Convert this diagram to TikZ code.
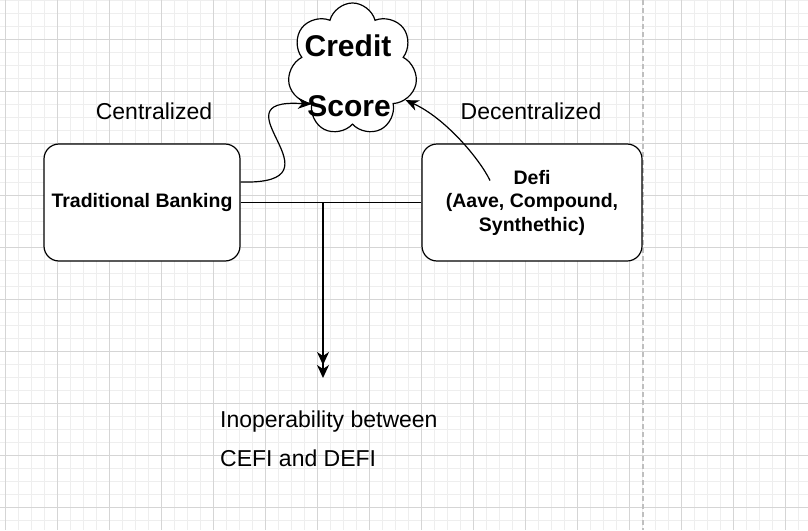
\documentclass[tikz,border=0pt]{standalone}
\usepackage{fontspec}
\setmainfont{Liberation Sans}
\usetikzlibrary{shapes.symbols,arrows.meta}
\definecolor{minorgrid}{HTML}{EEEEEE}
\definecolor{majorgrid}{HTML}{D5D5D5}
\tikzset{
  box/.style={draw, line width=1.2pt, rounded corners=15pt, fill=white, align=center,
    font=\bfseries\fontsize{19.5}{23.5}\selectfont},
  lbl/.style={font=\fontsize{23}{28}\selectfont},
  big/.style={font=\bfseries\fontsize{30}{36}\selectfont},
  tip/.style={line width=1.2pt, -{Stealth[length=13pt,width=11pt,inset=4pt]}},
}
\begin{document}
\begin{tikzpicture}[x=1pt,y=-1pt]
  \useasboundingbox (0,0) rectangle (808,530);
  \fill[white] (0,0) rectangle (808,530);
  % grid
  \foreach \x in {5,18,...,808} \draw[minorgrid, line width=0.8pt] (\x,0) -- (\x,530);
  \foreach \y in {0,13,...,530} \draw[minorgrid, line width=0.8pt] (0,\y) -- (808,\y);
  \foreach \x in {5,57,...,808} \draw[majorgrid, line width=0.8pt] (\x,0) -- (\x,530);
  \foreach \y in {39,91,...,530} \draw[majorgrid, line width=0.8pt] (0,\y) -- (808,\y);
  \draw[gray!50, dashed, dash pattern=on 5pt off 3pt, line width=1.2pt] (643,0) -- (643,530);

  \node[box, minimum width=196pt, minimum height=117pt] (bank) at (142,202.5) {Traditional Banking};
  \node[box, minimum width=220pt, minimum height=117pt] (defi) at (532,202.5) {Defi\\(Aave, Compound,\\Synthethic)};
  \node[cloud, cloud puffs=7, cloud ignores aspect, draw, line width=1.2pt, fill=white,
    minimum width=130pt, minimum height=133pt, inner sep=0pt] (score) at (352.5,69.5) {};
  \node[big] (credit) at (348,46) {Credit};
  \node[big] (scoretxt) at (349,106) {Score};

  \node[lbl] (central) at (154,111) {Centralized};
  \node[lbl] (decentral) at (531,111) {Decentralized};
  \node[lbl, anchor=base west, inner sep=0pt] (inop) at (220,427) {Inoperability between};
  \node[lbl, anchor=base west, inner sep=0pt] (cedefi) at (220,466) {CEFI and DEFI};

  % connectors
  \draw[line width=1.2pt] (bank.east) -- (defi.west);
  \coordinate (split) at (323,202.5);
  \coordinate (gap) at (323,378);
  \draw[line width=1.6pt, -{Stealth[length=13pt,width=12pt,inset=4pt] Stealth[length=13pt,width=12pt,inset=4pt]}] (split) -- (gap);
  \draw[tip] ([yshift=20.5pt]bank.east) .. controls +(110,3) and +(-102,-7) .. (score.220);
  \draw[tip] ([xshift=-42pt,yshift=22pt]defi.center) .. controls +(-10,-21) and +(40,18) .. (score.-30);
\end{tikzpicture}
\end{document}
